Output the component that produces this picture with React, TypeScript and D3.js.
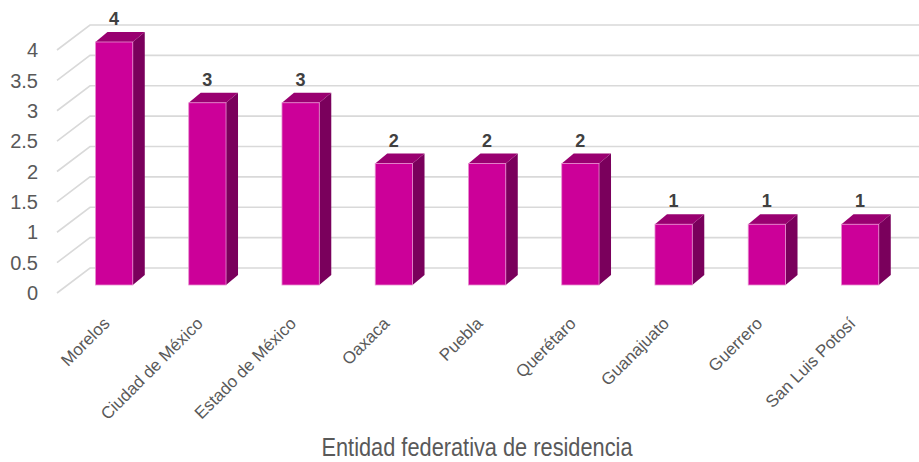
import React from 'react';
import * as d3 from 'd3';

const categories = [
  'Morelos',
  'Ciudad de México',
  'Estado de México',
  'Oaxaca',
  'Puebla',
  'Querétaro',
  'Guanajuato',
  'Guerrero',
  'San Luis Potosí',
];
const values = [4, 3, 3, 2, 2, 2, 1, 1, 1];
const yTicks = [0, 0.5, 1, 1.5, 2, 2.5, 3, 3.5, 4];
const axisTitle = 'Entidad federativa de residencia';

const width = 919;
const height = 462;

// 3d offsets (front plane -> back wall, front plane -> bar front, bar depth)
const wall = { dx: 33, dy: -25 };
const barFront = { dx: 10.5, dy: -8 };
const barDepth = { dx: 12, dy: -10 };

export default function App() {
  const x = d3.scaleBand<string>()
    .domain(categories)
    .range([57, 57 + 9 * 93.25]);

  const y = d3.scaleLinear()
    .domain([0, 4])
    .range([293, 50]);

  const bw = x.bandwidth() * 0.4;

  return (
    <div style={{ position: 'absolute', left: 0, top: 0 }}>
      <svg width={width} height={height} style={{ display: 'block', background: '#fff' }}>
        {/* grid */}
        <g stroke="#d9d9d9" strokeWidth={1.6} fill="none">
          {yTicks.map(t => (
            <path
              key={t}
              d={`M${x.range()[0]},${y(t)}L${x.range()[0] + wall.dx},${y(t) + wall.dy}L${width},${y(t) + wall.dy}`}
            />
          ))}
        </g>

        {/* y tick labels */}
        <g fontFamily="'Liberation Sans', Arial, sans-serif" fontSize={20} fill="#595959" textAnchor="end">
          {yTicks.map(t => (
            <text key={t} x={38} y={y(t)} dy="0.36em">{t}</text>
          ))}
        </g>

        {/* bars */}
        {categories.map((c, i) => {
          const x0 = (x(c) as number) + x.bandwidth() / 2 - bw / 2 + barFront.dx;
          const x1 = x0 + bw;
          const yb = y(0) + barFront.dy;
          const yt = y(values[i]) + barFront.dy;
          const { dx, dy } = barDepth;
          return (
            <g key={c}>
              <path
                d={`M${x1},${yt}L${x1 + dx},${yt + dy}L${x1 + dx},${yb + dy}L${x1},${yb}Z`}
                fill="#7a005c"
              />
              <path
                d={`M${x0},${yt}L${x0 + dx},${yt + dy}L${x1 + dx},${yt + dy}L${x1},${yt}Z`}
                fill="#990070"
              />
              <rect
                x={x0}
                y={yt}
                width={bw}
                height={yb - yt}
                fill="#cc0099"
                stroke="#e88fd0"
                strokeWidth={0.8}
              />
              <text
                x={x0 + bw / 2}
                y={yt - 17}
                textAnchor="middle"
                fontFamily="'Liberation Sans', Arial, sans-serif"
                fontWeight="bold"
                fontSize={18}
                fill="#404040"
              >
                {values[i]}
              </text>
            </g>
          );
        })}

        {/* category labels */}
        <g fontFamily="'Liberation Sans', Arial, sans-serif" fontSize={17} fill="#595959" textAnchor="end">
          {categories.map(c => {
            const cx = (x(c) as number) + x.bandwidth() / 2 + barFront.dx - 12;
            const cy = 316;
            return (
              <text key={c} transform={`translate(${cx},${cy}) rotate(-45)`} dy="0.71em">
                {c}
              </text>
            );
          })}
        </g>

        {/* axis title */}
        <text
          x={477}
          y={456}
          textAnchor="middle"
          fontFamily="'Liberation Sans', Arial, sans-serif"
          fontSize={26}
          fill="#595959"
          textLength={311}
          lengthAdjust="spacingAndGlyphs"
        >
          {axisTitle}
        </text>
      </svg>
    </div>
  );
}
